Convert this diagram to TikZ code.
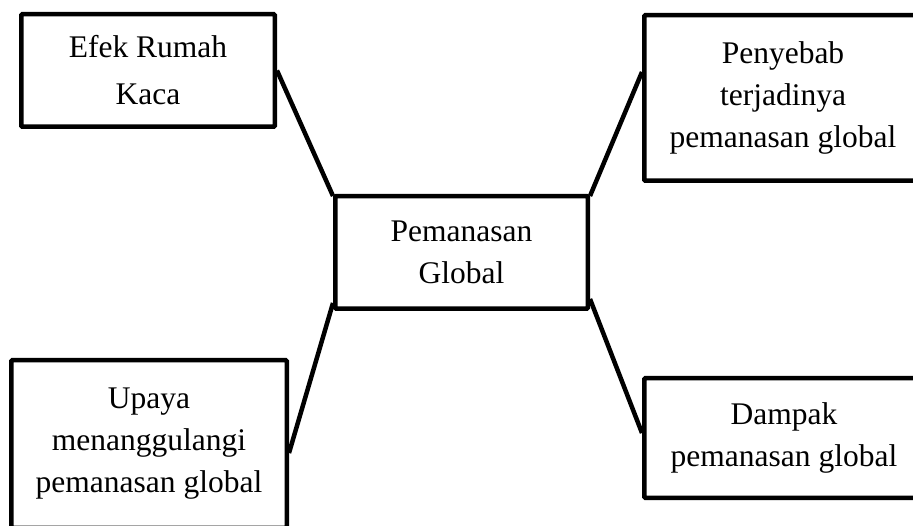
\documentclass[tikz,border=0pt]{standalone}
\usepackage{fontspec}
\setmainfont{Liberation Serif}
\usetikzlibrary{calc}
\begin{document}
\begin{tikzpicture}[x=1pt,y=1pt,
  box/.style={draw=black,line width=4.5pt,fill=white,rounded corners=1pt,align=center,inner sep=0pt,
    font=\fontsize{31.5}{42}\selectfont},
  link/.style={draw=black,line width=4.5pt}]
\useasboundingbox (0,0) rectangle (913,525);
\clip (0,0) rectangle (913,525);
\node[box,minimum width=253.5pt,minimum height=112.5pt,font=\fontsize{31.5}{47}\selectfont] (efek) at (148,454.5) {Efek Rumah\\Kaca};
\node[box,minimum width=252.5pt,minimum height=112.5pt] (pg) at (461.5,272.5) {Pemanasan\\Global};
\node[box,minimum width=277.5pt,minimum height=165.5pt] (pen) at (783,427) {Penyebab\\terjadinya\\pemanasan global};
\node[box,minimum width=279.5pt,minimum height=119.5pt] (dam) at (784,87) {Dampak\\pemanasan global};
\node[box,minimum width=275.5pt,minimum height=167.5pt] (upa) at (149,81) {Upaya\\menanggulangi\\pemanasan global};
\draw[link] (efek.east) -- ([yshift=-2pt]pg.north west);
\draw[link] ([yshift=26pt]pen.west) -- ([yshift=-2pt]pg.north east);
\draw[link] ([yshift=-9pt]upa.east) -- ([yshift=8pt]pg.south west);
\draw[link] ([yshift=5pt]dam.west) -- ([yshift=12pt]pg.south east);
\end{tikzpicture}
\end{document}
